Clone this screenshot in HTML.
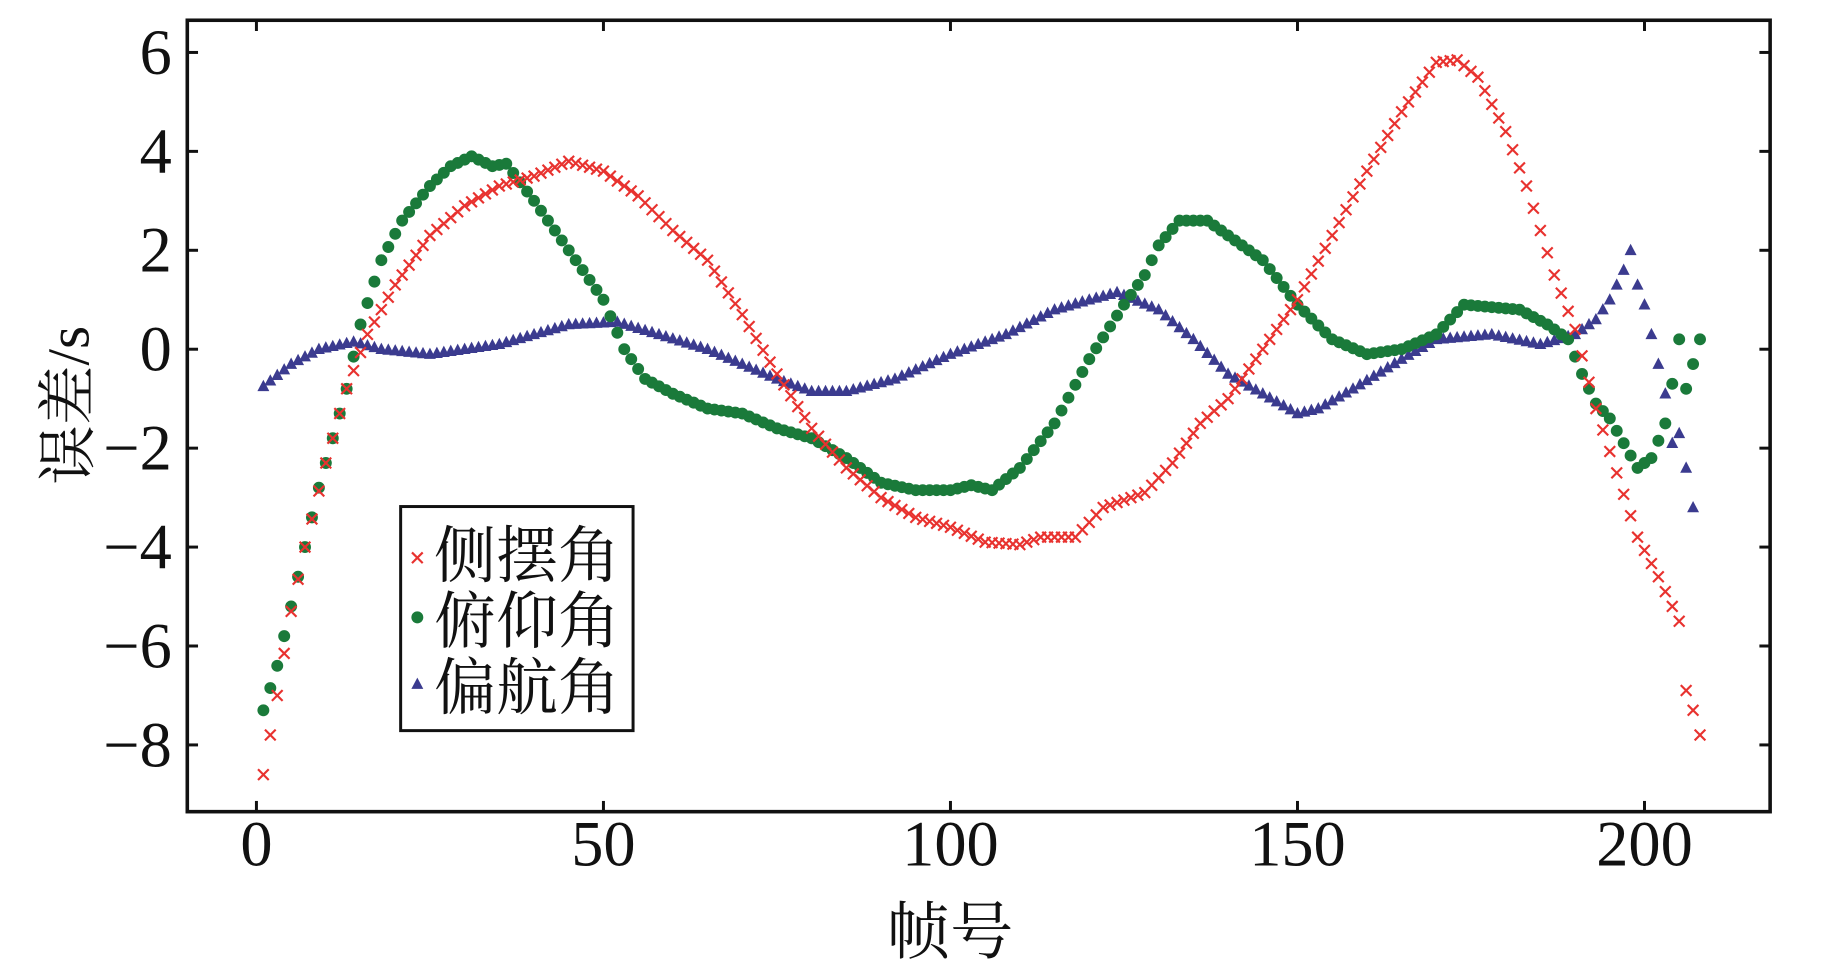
<!DOCTYPE html>
<html><head><meta charset="utf-8">
<style>
html,body{margin:0;padding:0;background:#fff;width:1843px;height:969px;overflow:hidden}
svg{display:block}
text{font-family:"Liberation Serif","Noto Serif CJK SC",serif;fill:#111}
.cjk{font-family:"Noto Serif CJK SC","Noto Sans CJK SC",serif}
</style></head>
<body>
<svg id="s" width="1843" height="969" viewBox="0 0 1546 813" xmlns="http://www.w3.org/2000/svg">
<rect x="157" y="17" width="1328" height="664" fill="none" stroke="#111" stroke-width="3"/>
<g id="ticks" stroke="#111" stroke-width="2.5"></g>
<g id="labels" font-size="54"></g>
<text x="797" y="800" font-size="53" text-anchor="middle" class="cjk">帧号</text>
<text transform="translate(74,340) rotate(-90)" font-size="50" text-anchor="middle"><tspan class="cjk">误差</tspan>/s</text>
<g id="data"></g>
<rect x="336" y="425" width="195" height="188" fill="#fff" stroke="#111" stroke-width="2.5"/>
<g id="leg"></g>
<text x="364" y="484" font-size="52" class="cjk">侧摆角</text>
<text x="364" y="539" font-size="52" class="cjk">俯仰角</text>
<text x="364" y="595" font-size="52" class="cjk">偏航角</text>
</svg>
<script>
const NS="http://www.w3.org/2000/svg";
function X(f){return 215+f*5.823;}
function Y(v){return 293-v*41.5;}
function el(tag,attrs,parent){const e=document.createElementNS(NS,tag);for(const k in attrs)e.setAttribute(k,attrs[k]);parent.appendChild(e);return e;}
const T=document.getElementById('ticks'),L=document.getElementById('labels'),D=document.getElementById('data'),G=document.getElementById('leg');
for(let f=0;f<=200;f+=50){const x=X(f);el('line',{x1:x,y1:681,x2:x,y2:672},T);el('line',{x1:x,y1:17,x2:x,y2:26},T);
 const t=el('text',{x:x,y:726,'text-anchor':'middle'},L);t.textContent=f;}
for(let v=-8;v<=6;v+=2){const y=Y(v);el('line',{x1:157,y1:y,x2:166,y2:y},T);el('line',{x1:1485,y1:y,x2:1476,y2:y},T);
 const t=el('text',{x:144,y:y+18,'text-anchor':'end'},L);t.textContent=(v<0?'\u2212':'')+Math.abs(v);}
function interp(pts,f){for(let i=0;i<pts.length-1;i++){const a=pts[i],b=pts[i+1];if(f>=a[0]&&f<=b[0])return a[1]+(b[1]-a[1])*(f-a[0])/(b[0]-a[0]);}return null;}
const red=[[1,-8.6],[3,-7],[5,-5.3],[7,-4],[10,-2.3],[13,-0.8],[16,0.3],[20,1.3],[25,2.3],[30,2.9],[35,3.3],[40,3.5],[45,3.8],[50,3.6],[55,3.1],[60,2.4],[65,1.8],[70,0.7],[75,-0.5],[80,-1.6],[85,-2.4],[90,-3.0],[95,-3.4],[100,-3.6],[105,-3.9],[110,-3.95],[113,-3.8],[118,-3.8],[122,-3.2],[128,-2.9],[132,-2.3],[136,-1.5],[140,-1],[145,0],[150,1],[155,2.3],[160,3.6],[165,4.8],[170,5.8],[173,5.85],[176,5.5],[180,4.4],[183,3.3],[187,1.5],[190,0.4],[193,-1.2],[196,-2.5],[199,-3.8],[202,-4.6],[205,-5.5],[206,-6.9],[207,-7.3],[208,-7.8]];
const green=[[1,-7.3],[3,-6.4],[5,-5.2],[7,-4],[9,-2.8],[11,-1.8],[13,-0.8],[15,0.5],[18,1.8],[21,2.6],[25,3.3],[28,3.7],[31,3.9],[34,3.7],[36,3.75],[40,3],[45,2],[50,1],[53,0],[56,-0.6],[60,-0.9],[65,-1.2],[70,-1.3],[75,-1.6],[80,-1.8],[85,-2.2],[90,-2.7],[95,-2.85],[100,-2.85],[103,-2.75],[106,-2.85],[110,-2.4],[115,-1.5],[120,-0.2],[125,0.9],[128,1.5],[130,2.1],[133,2.6],[137,2.6],[140,2.3],[145,1.8],[150,0.9],[155,0.2],[160,-0.1],[165,0],[170,0.3],[174,0.9],[178,0.85],[182,0.8],[186,0.5],[189,0.2],[191,-0.5],[193,-1.1],[195,-1.4],[197,-1.9],[199,-2.4],[201,-2.2],[203,-1.5],[204,-0.7],[205,0.2],[206,-0.8],[207,-0.3],[208,0.2]];
const blue=[[1,-0.75],[5,-0.3],[9,0],[14,0.15],[18,0],[25,-0.1],[35,0.1],[45,0.5],[52,0.55],[58,0.3],[65,0],[75,-0.6],[80,-0.85],[85,-0.85],[92,-0.6],[100,-0.1],[108,0.3],[115,0.8],[120,1],[124,1.15],[130,0.8],[135,0.2],[140,-0.5],[145,-0.9],[150,-1.3],[153,-1.2],[158,-0.8],[165,-0.2],[170,0.2],[178,0.3],[185,0.1],[190,0.3],[193,0.6],[195,1],[197,1.6],[198,2],[199,1.3],[200,0.9],[201,0.3],[202,-0.3],[203,-0.9],[204,-1.9],[205,-1.7],[206,-2.4],[207,-3.2]];
function cross(x,y,p){el('path',{d:`M${x-4.5},${y-4.5}L${x+4.5},${y+4.5}M${x-4.5},${y+4.5}L${x+4.5},${y-4.5}`,stroke:'#e8322f','stroke-width':1.8,fill:'none'},p);}
function dot(x,y,p){el('circle',{cx:x,cy:y,r:5,fill:'#1a7a3a'},p);}
function tri(x,y,p){el('path',{d:`M${x},${y-5.5}L${x+5},${y+4}L${x-5},${y+4}Z`,fill:'#3b3b8f'},p);}
for(let f=1;f<=207;f++){const v=interp(blue,f);if(v!==null)tri(X(f),Y(v),D);}
for(let f=1;f<=208;f++){const v=interp(green,f);if(v!==null)dot(X(f),Y(v),D);}
for(let f=1;f<=208;f++){const v=interp(red,f);if(v!==null)cross(X(f),Y(v),D);}
cross(350,468,G);dot(350,518,G);tri(350,574,G);
</script>
</body></html>
